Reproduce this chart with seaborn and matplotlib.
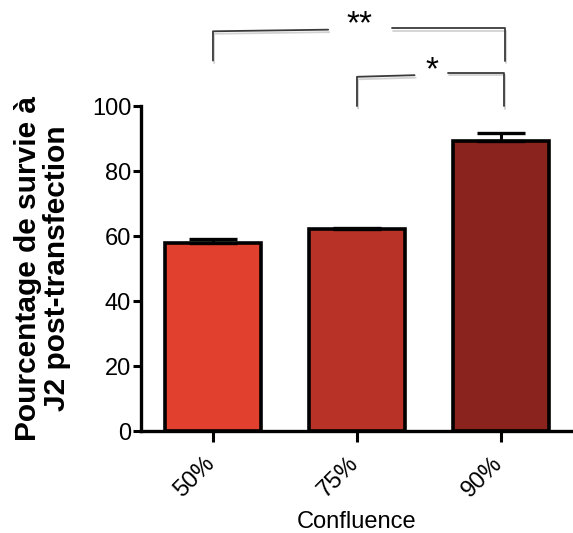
import numpy as np
import pandas as pd
import matplotlib
matplotlib.use("Agg")
import matplotlib.pyplot as plt
import matplotlib.patheffects as pe
import matplotlib.transforms as mtransforms
import seaborn as sns

# Data
categories = ["50%", "75%", "90%"]
survival = [58.0, 62.2, 89.2]
sem = [1.2, 0.3, 2.6]
bar_colors = ["#E2402E", "#B83228", "#8A231E"]

sns.set_style("ticks")
plt.rcParams['font.family'] = ['Liberation Sans', 'DejaVu Sans']
plt.rcParams['text.color'] = 'black'
plt.rcParams['xtick.color'] = 'black'
plt.rcParams['ytick.color'] = 'black'
plt.rcParams['axes.labelcolor'] = 'black'
plt.rcParams['axes.edgecolor'] = 'black'

df = pd.DataFrame({"Confluence": categories, "Survie": survival})

fig = plt.figure(figsize=(5.73, 5.33), dpi=100)
ax = fig.add_axes([0.246, 0.191, 0.754, 0.61])

sns.barplot(data=df, x="Confluence", y="Survie", hue="Confluence",
            palette=bar_colors, saturation=1, legend=False, width=0.67,
            edgecolor="black", linewidth=2.6, ax=ax)

# upper-only error bars
ax.errorbar(np.arange(len(categories)), survival,
            yerr=[np.zeros(len(sem)), sem], fmt="none",
            ecolor="black", elinewidth=2.2, capsize=17, capthick=2.4, zorder=1)

ax.set_xlim(-0.5, 2.5)
ax.set_ylim(0, 100)
ax.set_yticks([0, 20, 40, 60, 80, 100])
sns.despine(ax=ax)
for s in ["left", "bottom"]:
    ax.spines[s].set_linewidth(2.4)
ax.tick_params(axis="y", length=6, width=2.2, labelsize=17, pad=1)
ax.tick_params(axis="x", length=8, width=2.2, labelsize=17, pad=7)
shift = mtransforms.ScaledTranslation(6 / 100, 0, fig.dpi_scale_trans)
for lbl in ax.get_xticklabels():
    lbl.set_rotation(45)
    lbl.set_ha("right")
    lbl.set_va("top")
    lbl.set_transform(lbl.get_transform() + shift)

ax.set_xlabel("Confluence", fontsize=17)
ax.xaxis.set_label_coords(0.5, -0.245)
ax.set_ylabel("")
fig.text(0.074, 0.497, "Pourcentage de survie à\nJ2 post-transfection",
         rotation=90, ha="center", va="center", multialignment="center",
         fontsize=21.5, fontweight="bold", linespacing=1.05)

# significance brackets
shadow = [pe.SimpleLineShadow(offset=(0.8, -1.8), shadow_color="gray", alpha=0.35),
          pe.Normal()]
kw = dict(color="#3a3a3a", lw=1.3, clip_on=False, path_effects=shadow)
ax.plot([0.0, 0.0, 0.80], [114, 123, 123.5], **kw)
ax.plot([1.24, 2.03, 2.03], [124, 124, 114], **kw)
ax.text(1.02, 125.0, "**", ha="center", va="center", fontsize=24)

ax.plot([1.0, 1.0, 1.40], [100, 109, 109.5], **kw)
ax.plot([1.63, 2.02, 2.02], [110.3, 110.3, 100], **kw)
ax.text(1.52, 110.8, "*", ha="center", va="center", fontsize=24)

plt.savefig("out.png", dpi=100)
